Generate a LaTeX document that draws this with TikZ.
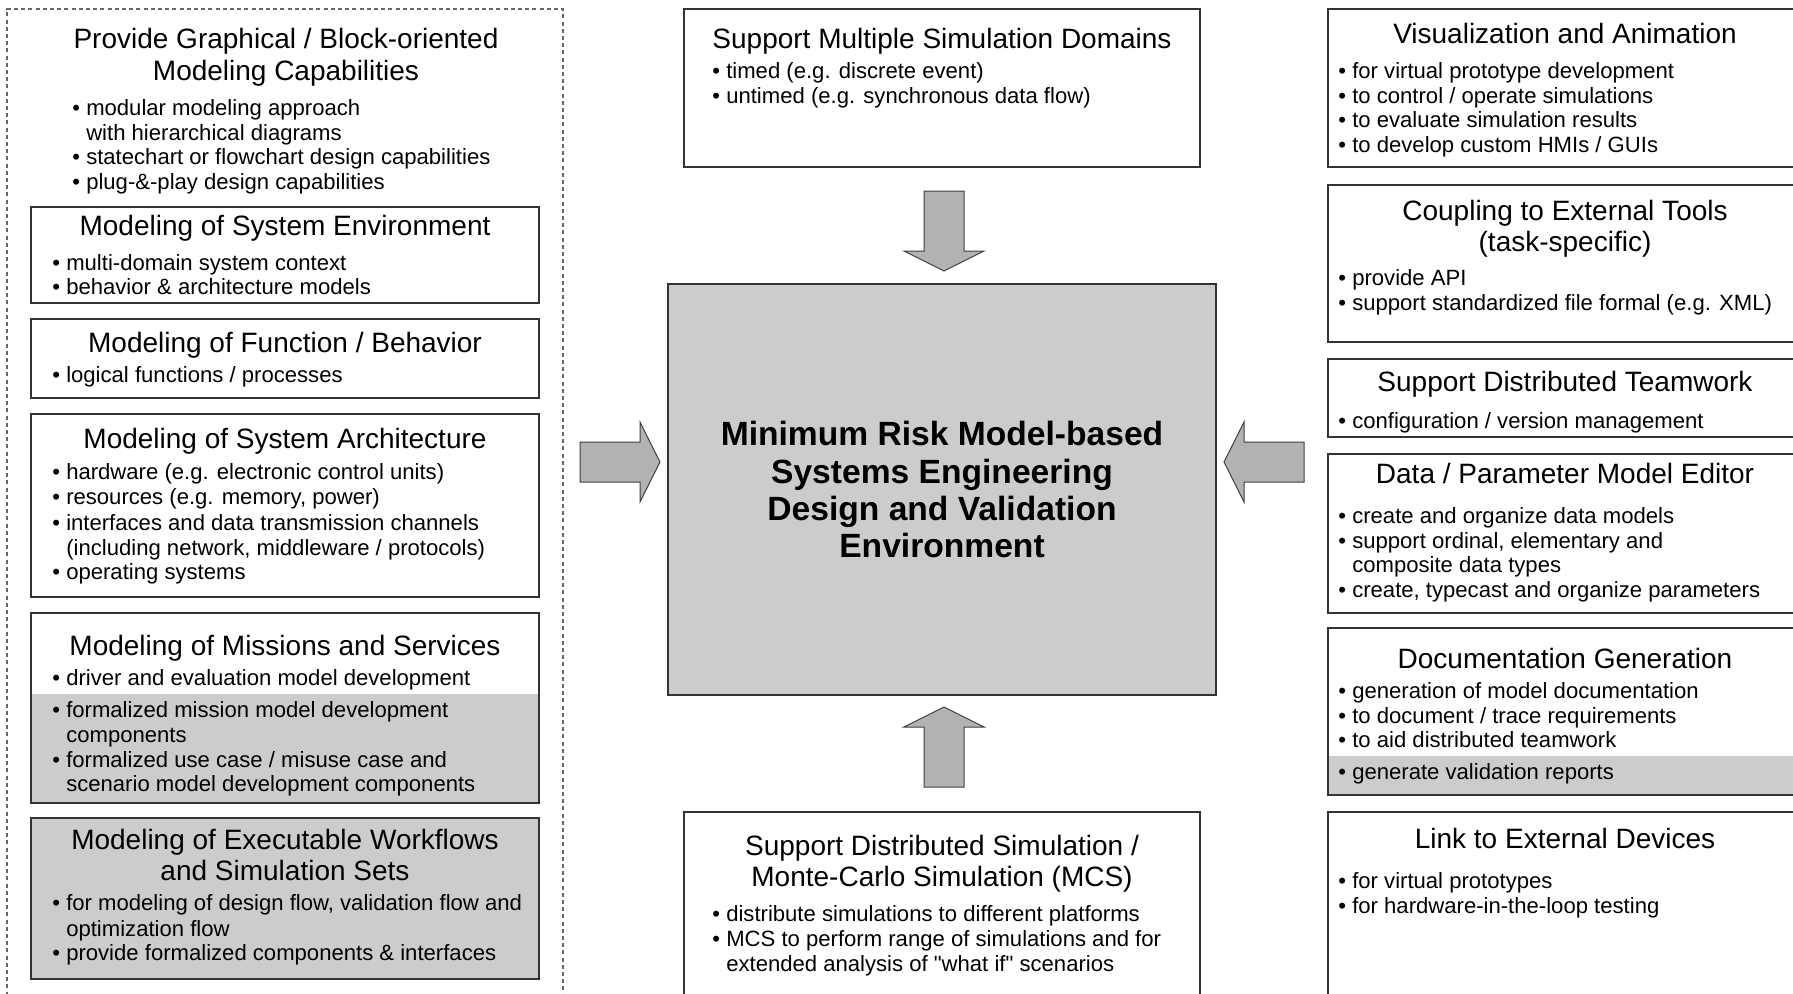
\documentclass[tikz,border=0pt]{standalone}
\usepackage{fontspec}
\setmainfont{Liberation Sans}[Ligatures=TeXOff]
\newcommand\BL[4]{\node[bul] (#1) at (#2,#3) {#4};}
\newcommand\TL[4]{\node[ttl] (#1) at (#2,#3) {#4};}
\newcommand\CT[4]{\node[ctr] (#1) at (#2,#3) {#4};}
\newcommand\hang{\phantom{• }}
\begin{document}
\begin{tikzpicture}[x=0.5pt,y=-0.5pt,
  box/.style={draw=black!80, line width=0.7pt},
  graybox/.style={box, fill=black!20},
  grayfill/.style={fill=black!20},
  ttl/.style={anchor=base, inner sep=0pt, font=\fontsize{14}{16}\selectfont},
  bul/.style={anchor=base west, inner sep=0pt, font=\fontsize{11.05}{12.3}\selectfont},
  ctr/.style={anchor=base, inner sep=0pt, font=\fontsize{16.8}{19}\selectfont\bfseries},
  arr/.style={draw=black!75, fill=black!30, line width=0.5pt, line join=miter}]
\useasboundingbox (0,0) rectangle (1793,993);
\clip (0,0) rectangle (1793,993);
\fill[white] (0,0) rectangle (1793,993);

% ---------- left column ----------
\draw[black!60, line width=0.6pt, dash pattern=on 2pt off 1.6pt] (7,1010) -- (7,9) -- (563,9) -- (563,1010);
\TL{g1}{286}{48}{Provide Graphical / Block-oriented}
\TL{g2}{286}{80}{Modeling Capabilities}
\BL{g3}{72}{115}{• modular modeling approach}
\BL{g4}{72}{140}{\hang with hierarchical diagrams}
\BL{g5}{72}{164}{• statechart or flowchart design capabilities}
\BL{g6}{72}{189}{• plug-\&-play design capabilities}

\draw[box] (31,207) rectangle (539,303);
\TL{e1}{285}{235}{Modeling of System Environment}
\BL{e2}{52}{270}{• multi-domain system context}
\BL{e3}{52}{294}{• behavior \& architecture models}

\draw[box] (31,319) rectangle (539,398);
\TL{f1}{285}{352}{Modeling of Function / Behavior}
\BL{f2}{52}{382}{• logical functions / processes}

\draw[box] (31,414) rectangle (539,597);
\TL{a1}{285}{448}{Modeling of System Architecture}
\BL{a2}{52}{479}{• hardware (e.g. electronic control units)}
\BL{a3}{52}{504}{• resources (e.g. memory, power)}
\BL{a4}{52}{530}{• interfaces and data transmission channels}
\BL{a5}{52}{555}{\hang(including network, middleware / protocols)}
\BL{a6}{52}{579}{• operating systems}

\fill[grayfill] (31,694) rectangle (539,803);
\draw[box] (31,613) rectangle (539,803);
\TL{m1}{285}{655}{Modeling of Missions and Services}
\BL{m2}{52}{685}{• driver and evaluation model development}
\BL{m3}{52}{717}{• formalized mission model development}
\BL{m4}{52}{742}{\hang components}
\BL{m5}{52}{767}{• formalized use case / misuse case and}
\BL{m6}{52}{791}{\hang scenario model development components}

\draw[graybox] (31,818) rectangle (539,979);
\TL{w1}{285}{849}{Modeling of Executable Workflows}
\TL{w2}{285}{880}{and Simulation Sets}
\BL{w3}{52}{910}{• for modeling of design flow, validation flow and}
\BL{w4}{52}{936}{\hang optimization flow}
\BL{w5}{52}{960}{• provide formalized components \& interfaces}

% ---------- center ----------
\draw[box] (684,9) rectangle (1200,167);
\TL{s1}{942}{48}{Support Multiple Simulation Domains}
\BL{s2}{712}{78}{• timed (e.g. discrete event)}
\BL{s3}{712}{103}{• untimed (e.g. synchronous data flow)}

\draw[graybox] (668,284) rectangle (1216,695);
\CT{c1}{942}{445}{Minimum Risk Model-based}
\CT{c2}{942}{483}{Systems Engineering}
\CT{c3}{942}{520}{Design and Validation}
\CT{c4}{942}{557}{Environment}

\draw[box] (684,812) rectangle (1200,1010);
\TL{d1}{942}{855}{Support Distributed Simulation /}
\TL{d2}{942}{886}{Monte-Carlo Simulation (MCS)}
\BL{d3}{712}{921}{• distribute simulations to different platforms}
\BL{d4}{712}{946}{• MCS to perform range of simulations and for}
\BL{d5}{712}{971}{\hang extended analysis of "what if" scenarios}

% arrows
\draw[arr] (924,191) -- (964,191) -- (964,251) -- (984,251) -- (944,271) -- (904,251) -- (924,251) -- cycle;
\draw[arr] (924,787) -- (964,787) -- (964,727) -- (984,727) -- (944,707) -- (904,727) -- (924,727) -- cycle;
\draw[arr] (580,442) -- (640,442) -- (640,422) -- (660,462) -- (640,502) -- (640,482) -- (580,482) -- cycle;
\draw[arr] (1304,442) -- (1244,442) -- (1244,422) -- (1224,462) -- (1244,502) -- (1244,482) -- (1304,482) -- cycle;

% ---------- right column ----------
\draw[box] (1328,9) rectangle (1802,167);
\TL{v1}{1565}{43}{Visualization and Animation}
\BL{v2}{1338}{78}{• for virtual prototype development}
\BL{v3}{1338}{103}{• to control / operate simulations}
\BL{v4}{1338}{127}{• to evaluate simulation results}
\BL{v5}{1338}{152}{• to develop custom HMIs / GUIs}

\draw[box] (1328,185) rectangle (1802,342);
\TL{k1}{1565}{220}{Coupling to External Tools}
\TL{k2}{1565}{251}{(task-specific)}
\BL{k3}{1338}{285}{• provide API}
\BL{k4}{1338}{310}{• support standardized file formal (e.g. XML)}

\draw[box] (1328,359) rectangle (1802,437);
\TL{t1}{1565}{391}{Support Distributed Teamwork}
\BL{t2}{1338}{428}{• configuration / version management}

\draw[box] (1328,454) rectangle (1802,613);
\TL{p1}{1565}{483}{Data / Parameter Model Editor}
\BL{p2}{1338}{523}{• create and organize data models}
\BL{p3}{1338}{548}{• support ordinal, elementary and}
\BL{p4}{1338}{572}{\hang composite data types}
\BL{p5}{1338}{597}{• create, typecast and organize parameters}

\fill[grayfill] (1328,756) rectangle (1802,795);
\draw[box] (1328,628) rectangle (1802,795);
\TL{o1}{1565}{668}{Documentation Generation}
\BL{o2}{1338}{698}{• generation of model documentation}
\BL{o3}{1338}{723}{• to document / trace requirements}
\BL{o4}{1338}{747}{• to aid distributed teamwork}
\BL{o5}{1338}{779}{• generate validation reports}

\draw[box] (1328,812) rectangle (1802,1010);
\TL{x1}{1565}{848}{Link to External Devices}
\BL{x2}{1338}{888}{• for virtual prototypes}
\BL{x3}{1338}{913}{• for hardware-in-the-loop testing}
\end{tikzpicture}
\end{document}
